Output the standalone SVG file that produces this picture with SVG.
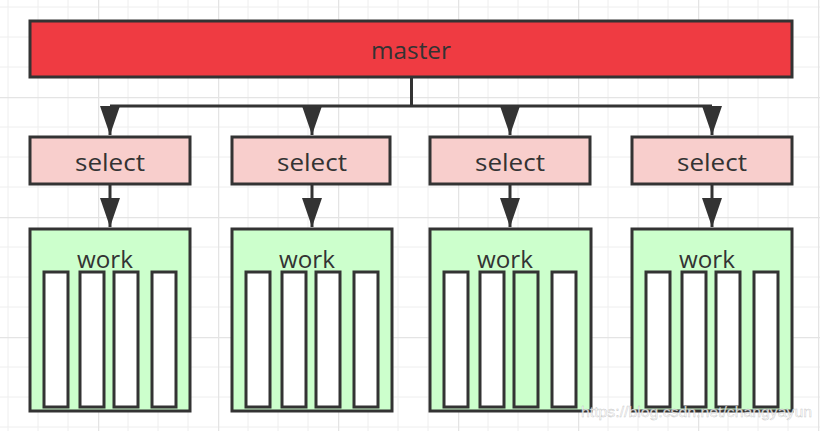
<svg xmlns="http://www.w3.org/2000/svg" width="820" height="431" viewBox="0 0 820 431">
<style>
.txt{font-family:"Open Sans","Liberation Sans",Arial,sans-serif;fill:#333;text-anchor:middle}
.master{fill:#EF3B42;stroke:#333;stroke-width:3}
.select{fill:#F8CECC;stroke:#333;stroke-width:3}
.work{fill:#CCFFCC;stroke:#333;stroke-width:3}
.bar{fill:#fff;stroke:#333;stroke-width:3}
.conn{fill:none;stroke:#333;stroke-width:3}
</style>
<defs>
<pattern id="grid" patternUnits="userSpaceOnUse" x="-22" y="-23" width="120" height="120">
<path d="M30,0V120M60,0V120M90,0V120M0,30H120M0,60H120M0,90H120" stroke="#eeeeee" stroke-width="1" fill="none"/>
<path d="M0,0V120M0,0H120" stroke="#e4e4e4" stroke-width="2.5" fill="none"/>
</pattern>
<marker id="arr" viewBox="0 -10 29 20" refX="29" refY="0" markerUnits="userSpaceOnUse" markerWidth="29" markerHeight="20" orient="auto">
<path d="M0,-10L29,0L0,10Z" fill="#333"/>
</marker>
</defs>
<rect width="820" height="431" fill="#fff"/>
<rect width="820" height="431" fill="url(#grid)"/>

<g id="connectors">
<path class="conn" d="M411.5,77V106M110,106H712"/>
<path class="conn" d="M110,106V135" marker-end="url(#arr)"/>
<path class="conn" d="M312,106V135" marker-end="url(#arr)"/>
<path class="conn" d="M510,106V135" marker-end="url(#arr)"/>
<path class="conn" d="M712,106V135" marker-end="url(#arr)"/>
<path class="conn" d="M110,184V227" marker-end="url(#arr)"/>
<path class="conn" d="M312,184V227" marker-end="url(#arr)"/>
<path class="conn" d="M510,184V227" marker-end="url(#arr)"/>
<path class="conn" d="M712,184V227" marker-end="url(#arr)"/>
</g>

<g id="master">
<rect class="master" x="30" y="21" width="762" height="56"/>
<text class="txt" x="411" y="59" font-size="24" textLength="80" lengthAdjust="spacingAndGlyphs">master</text>
</g>

<g id="select1">
<rect class="select" x="30" y="137" width="160" height="47"/>
<text class="txt" x="110" y="171" font-size="24" textLength="70" lengthAdjust="spacingAndGlyphs">select</text>
</g>
<g id="select2">
<rect class="select" x="232" y="137" width="158" height="47"/>
<text class="txt" x="312" y="171" font-size="24" textLength="70" lengthAdjust="spacingAndGlyphs">select</text>
</g>
<g id="select3">
<rect class="select" x="430" y="137" width="160" height="47"/>
<text class="txt" x="510" y="171" font-size="24" textLength="70" lengthAdjust="spacingAndGlyphs">select</text>
</g>
<g id="select4">
<rect class="select" x="632" y="137" width="160" height="47"/>
<text class="txt" x="712" y="171" font-size="24" textLength="70" lengthAdjust="spacingAndGlyphs">select</text>
</g>

<g id="work1">
<rect class="work" x="30" y="229" width="160" height="182"/>
<text class="txt" x="105" y="268" font-size="24" textLength="56" lengthAdjust="spacingAndGlyphs">work</text>
<rect class="bar" x="44" y="272" width="24" height="135"/>
<rect class="bar" x="80" y="272" width="24" height="135"/>
<rect class="bar" x="114" y="272" width="24" height="135"/>
<rect class="bar" x="152" y="272" width="24" height="135"/>
</g>
<g id="work2">
<rect class="work" x="232" y="229" width="160" height="182"/>
<text class="txt" x="307" y="268" font-size="24" textLength="56" lengthAdjust="spacingAndGlyphs">work</text>
<rect class="bar" x="246" y="272" width="24" height="135"/>
<rect class="bar" x="282" y="272" width="24" height="135"/>
<rect class="bar" x="316" y="272" width="24" height="135"/>
<rect class="bar" x="354" y="272" width="24" height="135"/>
</g>
<g id="work3">
<rect class="work" x="430" y="229" width="161" height="182"/>
<text class="txt" x="505" y="268" font-size="24" textLength="56" lengthAdjust="spacingAndGlyphs">work</text>
<rect class="bar" x="444" y="272" width="24" height="135"/>
<rect class="bar" x="480" y="272" width="24" height="135"/>
<rect class="bar" x="514" y="272" width="24" height="135" style="fill:#CCFFCC"/>
<rect class="bar" x="552" y="272" width="24" height="135"/>
</g>
<g id="work4">
<rect class="work" x="632" y="229" width="160" height="182"/>
<text class="txt" x="707" y="268" font-size="24" textLength="56" lengthAdjust="spacingAndGlyphs">work</text>
<rect class="bar" x="646" y="272" width="24" height="135"/>
<rect class="bar" x="682" y="272" width="24" height="135"/>
<rect class="bar" x="716" y="272" width="24" height="135"/>
<rect class="bar" x="754" y="272" width="24" height="135"/>
</g>

<text x="581" y="417" font-family="'Liberation Sans',Arial,sans-serif" font-size="14" fill="#ffffff" fill-opacity="0.85" stroke="#aaaaaa" stroke-width="0.4" stroke-opacity="0.7" textLength="231" lengthAdjust="spacingAndGlyphs">https://blog.csdn.net/changyayun</text>
</svg>
